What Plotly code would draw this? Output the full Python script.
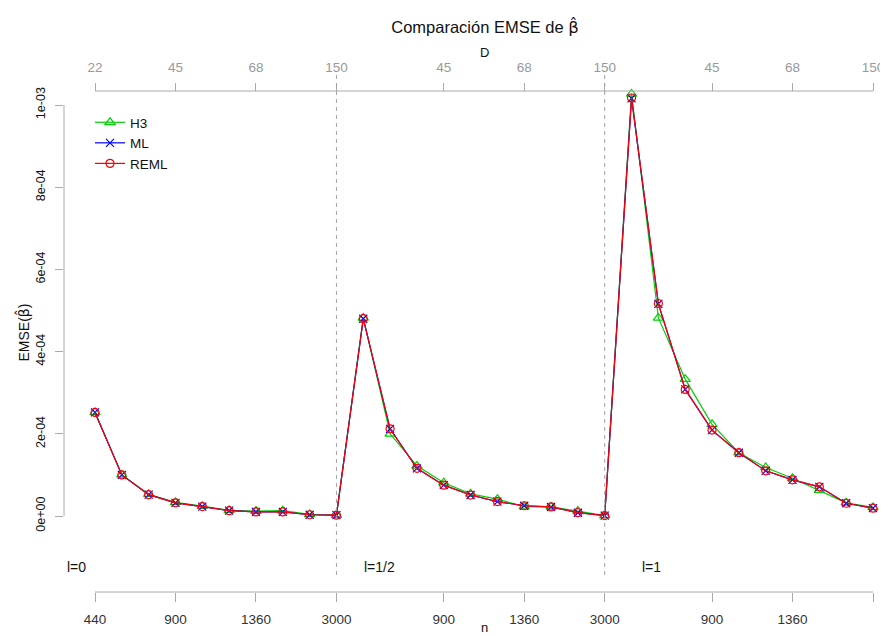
import plotly.graph_objects as go

# ---------------- data ----------------
idx = list(range(1, 31))

h3 = [2.52e-4, 1.00e-4, 0.53e-4, 0.33e-4, 0.24e-4, 0.14e-4, 0.12e-4, 0.13e-4, 0.04e-4, 0.02e-4,
      4.82e-4, 2.00e-4, 1.22e-4, 0.81e-4, 0.54e-4, 0.41e-4, 0.23e-4, 0.22e-4, 0.12e-4, 0.01e-4,
      1.027e-3, 4.82e-4, 3.33e-4, 2.23e-4, 1.54e-4, 1.18e-4, 0.92e-4, 0.63e-4, 0.32e-4, 0.21e-4]

ml = [2.52e-4, 1.00e-4, 0.52e-4, 0.32e-4, 0.23e-4, 0.13e-4, 0.10e-4, 0.10e-4, 0.03e-4, 0.02e-4,
      4.80e-4, 2.12e-4, 1.16e-4, 0.75e-4, 0.51e-4, 0.35e-4, 0.25e-4, 0.22e-4, 0.08e-4, 0.01e-4,
      1.016e-3, 5.16e-4, 3.08e-4, 2.09e-4, 1.54e-4, 1.10e-4, 0.88e-4, 0.71e-4, 0.31e-4, 0.19e-4]

reml = [2.52e-4, 1.00e-4, 0.52e-4, 0.32e-4, 0.23e-4, 0.13e-4, 0.10e-4, 0.10e-4, 0.03e-4, 0.02e-4,
        4.80e-4, 2.12e-4, 1.16e-4, 0.75e-4, 0.51e-4, 0.35e-4, 0.25e-4, 0.22e-4, 0.08e-4, 0.01e-4,
        1.017e-3, 5.17e-4, 3.08e-4, 2.09e-4, 1.54e-4, 1.10e-4, 0.88e-4, 0.71e-4, 0.31e-4, 0.19e-4]

tick_idx = [1, 4, 7, 10, 14, 17, 20, 24, 27, 30]
n_labels = ["440", "900", "1360", "3000", "900", "1360", "3000", "900", "1360", "3000"]
D_labels = ["22", "45", "68", "150", "45", "68", "150", "45", "68", "150"]

y_ticks = [0, 2e-4, 4e-4, 6e-4, 8e-4, 1e-3]
y_tick_labels = ["0e+00", "2e-04", "4e-04", "6e-04", "8e-04", "1e-03"]

group_breaks = [10, 20]
group_labels = ["l=0", "l=1/2", "l=1"]
group_label_x = [-0.1, 10.95, 21.3]
group_label_y = -1.25e-4

# ---------------- styling ----------------
FONT = "Liberation Sans, Arial, Helvetica, sans-serif"
BETA_HAT = '<span style="font-family:DejaVu Sans">β\u0302</span>'
GREEN = "#00d000"
BLUE = "#0000ff"
RED = "#ff0000"
AXIS_GRAY = "#aaaaaa"

# page (browser) geometry; the html body adds an 8px margin
PAGE_W, PAGE_H = 888, 636
OFF = 8
W, H = PAGE_W - OFF, PAGE_H - OFF

# plot area in page pixels
P_L, P_R, P_T, P_B = 64, 888, 73, 592
ML_, MR_, MT_, MB_ = P_L - OFF, PAGE_W - P_R, P_T - OFF, PAGE_H - P_B
plot_w = P_R - P_L
plot_h = P_B - P_T


def fx(p):
    return (p - P_L) / plot_w


def fy(p):
    return (P_B - p) / plot_h


# x range so that 1 -> px 95 and 30 -> px 873 (page)
px_per_x = (873 - 95) / 29
x_lo = 1 - (95 - P_L) / px_per_x
x_hi = 30 + (P_R - 873) / px_per_x
# y range so that 0 -> px 516 and 1e-3 -> px 105 (page)
px_per_y = (516 - 105) / 1e-3
y_hi = (516 - P_T) / px_per_y
y_lo = -(P_B - 516) / px_per_y

top_axis_pos = fy(91)
dash_bottom = fy(575)

fig = go.Figure()

series = [("H3", h3, GREEN, "triangle-up-open", 9),
          ("ML", ml, BLUE, "x-thin-open", 8),
          ("REML", reml, RED, "circle-open", 8)]
for name, vals, col, sym, sz in series:
    fig.add_trace(go.Scatter(
        x=idx, y=vals, mode="lines+markers", name=name,
        line=dict(color=col, width=1.2),
        marker=dict(symbol=sym, size=sz, color=col, line=dict(color=col, width=1.2)),
    ))

# invisible trace so that the top (D) axis is drawn
fig.add_trace(go.Scatter(x=idx, y=ml, xaxis="x2", mode="markers",
                         marker=dict(opacity=0), showlegend=False, hoverinfo="skip"))

shapes = []
shapes.append(dict(type="line", xref="x", yref="paper", x0=tick_idx[0], x1=tick_idx[-1],
                   y0=0, y1=0, line=dict(color=AXIS_GRAY, width=1)))
shapes.append(dict(type="line", xref="x", yref="paper", x0=tick_idx[0], x1=tick_idx[-1],
                   y0=top_axis_pos, y1=top_axis_pos, line=dict(color=AXIS_GRAY, width=1)))
shapes.append(dict(type="line", xref="paper", yref="y", x0=0, x1=0,
                   y0=y_ticks[0], y1=y_ticks[-1], line=dict(color=AXIS_GRAY, width=1)))
for b in group_breaks:
    shapes.append(dict(type="line", xref="x", yref="paper", x0=b, x1=b,
                       y0=dash_bottom, y1=1,
                       line=dict(color="#a0a0a0", width=1, dash="4px,4px")))

annotations = []
for lab, gx in zip(group_labels, group_label_x):
    annotations.append(dict(text=lab, x=gx, y=group_label_y, xref="x", yref="y",
                            showarrow=False, xanchor="left", yanchor="middle",
                            font=dict(family=FONT, size=14, color="#111111")))
annotations.append(dict(text="D", xref="paper", yref="paper", x=fx(484), y=fy(52),
                        showarrow=False, xanchor="center", yanchor="middle",
                        font=dict(family=FONT, size=13, color="#111111")))
annotations.append(dict(text="n", xref="paper", yref="paper", x=fx(484), y=fy(627),
                        showarrow=False, xanchor="center", yanchor="middle",
                        font=dict(family=FONT, size=13, color="#111111")))

fig.update_layout(
    width=W, height=H,
    margin=dict(l=ML_, r=MR_, t=MT_, b=MB_, pad=0, autoexpand=False),
    paper_bgcolor="white", plot_bgcolor="white",
    font=dict(family=FONT, color="#111111"),
    title=dict(text="Comparación EMSE de " + BETA_HAT, x=(485 - OFF) / W, xref="container",
               xanchor="center", y=1 - (27 - OFF) / H, yref="container", yanchor="middle",
               font=dict(family=FONT, size=16.5, color="#111111")),
    xaxis=dict(range=[x_lo, x_hi], tickmode="array", tickvals=tick_idx, ticktext=n_labels,
               ticks="outside", ticklen=9, tickcolor=AXIS_GRAY, tickwidth=1, automargin=False,
               ticklabelstandoff=6,
               showline=False, showgrid=False, zeroline=False,
               tickfont=dict(family=FONT, size=13.5, color="#333333")),
    xaxis2=dict(range=[x_lo, x_hi], overlaying="x", side="top", anchor="free",
                position=top_axis_pos, matches="x", automargin=False,
                tickmode="array", tickvals=tick_idx, ticktext=D_labels,
                ticks="outside", ticklen=8, tickcolor=AXIS_GRAY, tickwidth=1,
                ticklabelstandoff=6,
                showline=False, showgrid=False, zeroline=False,
                tickfont=dict(family=FONT, size=13.5, color="#999999")),
    yaxis=dict(range=[y_lo, y_hi], tickmode="array", tickvals=y_ticks, ticktext=y_tick_labels,
               tickangle=-90, ticks="outside", ticklen=8, tickcolor=AXIS_GRAY, tickwidth=1,
               ticklabelstandoff=5,
               showline=False, showgrid=False, zeroline=False, automargin=False,
               tickfont=dict(family=FONT, size=12.5, color="#111111"),
               title=dict(text="EMSE(" + BETA_HAT + ")", standoff=1,
                          font=dict(family=FONT, size=14, color="#111111"))),
    legend=dict(x=fx(90), y=fy(107), xanchor="left", yanchor="top",
                bgcolor="rgba(0,0,0,0)", borderwidth=0, itemwidth=30,
                font=dict(family=FONT, size=13.5, color="#111111"), tracegroupgap=0),
    shapes=shapes,
    annotations=annotations,
    showlegend=True,
)

fig.write_html("out.html")
